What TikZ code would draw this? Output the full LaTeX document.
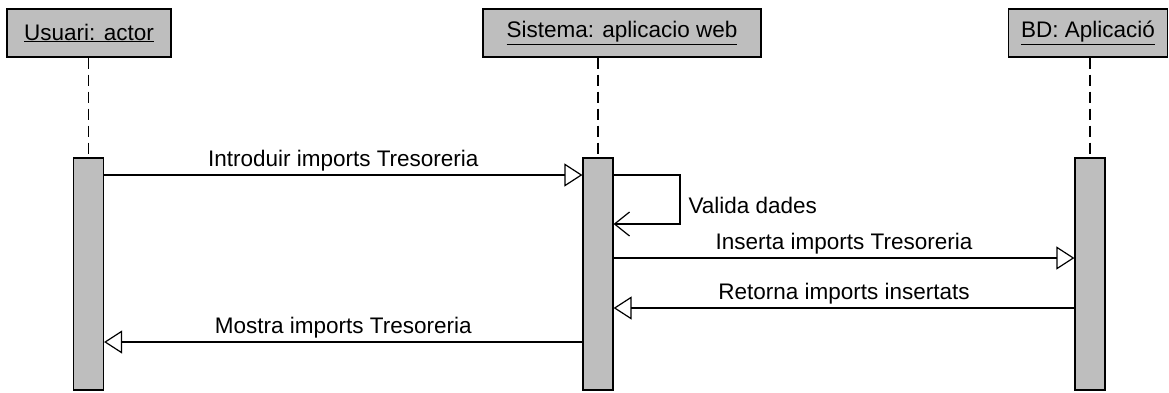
\documentclass[tikz,border=0pt]{standalone}
\usepackage{fontspec}
\setmainfont{Liberation Sans}
\usetikzlibrary{arrows.meta}
\definecolor{umlgray}{RGB}{190,190,190}
\tikzset{
  header/.style={draw, fill=umlgray, minimum height=48pt, inner sep=0pt},
  lifeline/.style={dash pattern=on 11pt off 6pt},
  activ/.style={draw, fill=umlgray, minimum width=30pt, minimum height=232pt, inner sep=0pt},
  msg/.style={-{Triangle[open,length=18pt,width=23pt]}},
  selfmsg/.style={-{Straight Barb[length=15pt,width=24pt]}},
  lbl/.style={above, inner sep=3pt},
}
\begin{document}
\begin{tikzpicture}[x=1pt,y=-1pt,font=\fontsize{22.5}{27}\selectfont,line width=1.2pt]
\useasboundingbox (0,0) rectangle (1169,392);
% objects
\node[header, minimum width=164pt] (usuari) at (89,33) {\underline{Usuari: actor}};
\node[header, minimum width=278pt] (sistema) at (622,33) {\underline{Sistema: aplicacio web}};
\node[header, minimum width=159pt] (bd) at (1088,33) {\underline{BD: Aplicació}};
% activations
\node[activ] (act1) at (88.5,274) {};
\node[activ] (act2) at (598,274) {};
\node[activ] (act3) at (1090,274) {};
% lifelines
\draw[lifeline] (act1.north |- usuari.south) -- (act1.north);
\draw[lifeline] (act2.north |- sistema.south) -- (act2.north);
\draw[lifeline] (act3.north |- bd.south) -- (act3.north);
% message rows
\coordinate (m1) at (0,175);
\coordinate (m2) at (0,258);
\coordinate (m3) at (0,308);
\coordinate (m4) at (0,342);
\coordinate (loop) at (680,224);
\draw[msg] (act1.east |- m1) -- node[lbl] (introduir) {Introduir imports Tresoreria} (act2.west |- m1);
\draw[selfmsg] (act2.east |- m1) -| (loop) -- (act2.east |- loop);
\node[anchor=base west, inner sep=0pt] (valida) at (688,213) {Valida dades};
\draw[msg] (act2.east |- m2) -- node[lbl] (inserta) {Inserta imports Tresoreria} (act3.west |- m2);
\draw[msg] (act3.west |- m3) -- node[lbl] (retorna) {Retorna imports insertats} (act2.east |- m3);
\draw[msg] (act2.west |- m4) -- node[lbl] (mostra) {Mostra imports Tresoreria} (act1.east |- m4);
\end{tikzpicture}
\end{document}
